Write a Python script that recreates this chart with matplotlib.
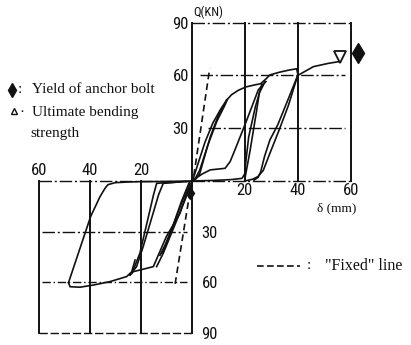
import matplotlib
matplotlib.use("Agg")
import matplotlib.pyplot as plt
from matplotlib import font_manager

# hysteresis loops, positive quadrant (delta mm, Q kN)
up_c1_load_d = [0.5, 2, 5, 8, 11, 13.2]
up_c1_load_q = [1, 8, 22, 33, 41, 46]
up_c1_unload_d = [13.2, 10, 7, 4.5, 3, 1.5, 0]
up_c1_unload_q = [46, 37, 25, 12, 4, 1, 0]
up_c1_reload_d = [1, 3, 6, 9.5, 12.5, 13.5]
up_c1_reload_q = [0.5, 6, 20, 34, 43, 46.5]
up_env_d = [13.2, 15, 17.5, 20.5, 24, 26, 28, 29.5, 33, 36.5, 39.6, 40]
up_env_q = [46, 49, 51.5, 53.5, 54.7, 55.3, 58, 60.3, 61.8, 63, 63.8, 61]
up_c2_load_d = [1, 4, 7, 12.6, 14.5, 16.3, 20.8, 25.1, 26.9, 28]
up_c2_load_q = [1, 4, 6.3, 7.2, 11, 17.6, 34.7, 51.7, 55, 56.5]
up_c2_reload_d = [20.1, 22, 24.5, 25.5, 27.7]
up_c2_reload_q = [1.5, 17, 40, 50, 56.5]
up_c2_unload_d = [26.5, 24, 21.5, 20.5, 20, 19, 15, 8, 0]
up_c2_unload_q = [55, 42, 25, 12, 4, 1.5, 0.8, 0.3, 0]
up_c3_load_d = [20, 23, 25, 27, 29.5, 33, 36.5, 40]
up_c3_load_q = [0, 1, 2.5, 6, 15.7, 29, 43, 60]
up_c3_unload_d = [40, 36, 32.5, 29.5, 27.5, 26, 25, 23.5]
up_c3_unload_q = [60, 45, 32, 23.3, 14, 5, 2, 0.5]
up_final_d = [40, 45.9, 51.6, 55.3]
up_final_q = [60, 65, 66.9, 67.8]

# hysteresis loops, negative quadrant
lo_c1_a_d = [0, -5, -11.2, -13.8]
lo_c1_a_q = [-1.4, -20, -42.8, -50.7]
lo_c1_b_d = [-2, -6, -9.8, -11.8]
lo_c1_b_q = [-5.3, -21, -36.9, -42.8]
lo_c1_c_d = [-1, -4, -7.5, -10.5, -12.5]
lo_c1_c_q = [-1, -12, -27, -38, -44]
lo_c2_load_d = [-2, -10, -13.8, -15, -20.4, -23, -23.6]
lo_c2_load_q = [-0.4, -1, -1.4, -8, -42.8, -52.7, -54.6]
lo_c2_reload_d = [-4.6, -11.2, -13, -19.1, -21.7, -24.3]
lo_c2_reload_q = [-0.5, -1.4, -8, -38.9, -50.7, -55.7]
lo_c2_unload_d = [-24.3, -23, -17.7, -15.1, -10, -4.6, -0.7]
lo_c2_unload_q = [-55.7, -53.7, -51.7, -50.7, -33, -19.1, -1.4]
lo_c3_unload_d = [-48.5, -39.8, -36.1, -34.2, -33, -30.2, -25, -20.3, -10, 0]
lo_c3_unload_q = [-60.2, -21.1, -9.3, -4.5, -2.2, -1.0, -0.6, -0.4, -0.3, 0]
lo_c3_peak_d = [-48.5, -47.9, -44, -38.7, -32.2, -25.6, -23.6, -22.3]
lo_c3_peak_q = [-60.2, -62.6, -62.9, -61.6, -59.6, -56.6, -53.7, -46.8]

# "Fixed" reference lines
fix_up_d = [0.8, 6.8]
fix_up_q = [3, 64]
fix_lo_d = [0, -6.6]
fix_lo_q = [0, -61.6]

# event markers
yield_d = [62.9, -0.6]
yield_q = [72.6, -7.0]
ult_d = [56]
ult_q = [70.7]

up_xticks = [20, 40, 60]
up_yticks = [30, 60, 90]
lo_xticks = [-60, -40, -20]
lo_yticks = [-30, -60, -90]


def pick_font(names):
    for name in names:
        try:
            font_manager.findfont(name, fallback_to_default=False)
            return name
        except ValueError:
            pass
    return "DejaVu Sans"


ink = "#111111"
dashdot = (0, (9, 2, 1.5, 2))
tick_font = pick_font(["Liberation Sans Narrow", "Roboto Condensed", "Liberation Sans"])
serif = ["Liberation Serif", "DejaVu Serif"]

fig = plt.figure(figsize=(4.11, 3.45), dpi=100)
ax_up = fig.add_axes([0.4664, 0.4754, 0.3869, 0.4588])
ax_lo = fig.add_axes([0.0956, 0.0348, 0.3708, 0.4406])

ax_up.set_xlim(0, 60)
ax_up.set_ylim(0, 90)
ax_lo.set_xlim(-60, 0)
ax_lo.set_ylim(-90, 0)

for ax in (ax_up, ax_lo):
    for s in ax.spines.values():
        s.set_visible(False)
    ax.patch.set_alpha(0)
    ax.tick_params(length=0, labelsize=12, colors=ink)

# frame and grid of the positive quadrant
for x in [0, 20, 40, 60]:
    ax_up.plot([x, x], [0, 90], color=ink, lw=1.4, clip_on=False)
ax_up.plot([0, 60], [90, 90], color=ink, lw=1, ls=dashdot, clip_on=False)
ax_up.plot([3, 58], [60, 60], color=ink, lw=1, ls=dashdot)
ax_up.plot([6, 58], [30, 30], color=ink, lw=1, ls=dashdot)
ax_up.plot([0, 60], [0, 0], color=ink, lw=1, ls=dashdot, clip_on=False)

# frame and grid of the negative quadrant
for x in [-60, -40, -20, 0]:
    ax_lo.plot([x, x], [-90, 0], color=ink, lw=1.4, clip_on=False)
ax_lo.plot([-60, 0], [0, 0], color=ink, lw=1, ls=dashdot, clip_on=False)
ax_lo.plot([-59, -2], [-30, -30], color=ink, lw=1, ls=dashdot)
ax_lo.plot([-59, -2], [-60, -60], color=ink, lw=1, ls=(0, (6, 2, 1, 2)))
ax_lo.plot([-60, 0], [-90, -90], color=ink, lw=1, ls=(0, (6, 2)), clip_on=False)

up_lines = [
    (up_c1_load_d, up_c1_load_q), (up_c1_unload_d, up_c1_unload_q),
    (up_c1_reload_d, up_c1_reload_q), (up_env_d, up_env_q),
    (up_c2_load_d, up_c2_load_q), (up_c2_reload_d, up_c2_reload_q),
    (up_c2_unload_d, up_c2_unload_q), (up_c3_load_d, up_c3_load_q),
    (up_c3_unload_d, up_c3_unload_q), (up_final_d, up_final_q),
]
for d, q in up_lines:
    ax_up.plot(d, q, color=ink, lw=1.2, clip_on=False)

lo_lines = [
    (lo_c1_a_d, lo_c1_a_q), (lo_c1_b_d, lo_c1_b_q), (lo_c1_c_d, lo_c1_c_q),
    (lo_c2_load_d, lo_c2_load_q), (lo_c2_reload_d, lo_c2_reload_q),
    (lo_c2_unload_d, lo_c2_unload_q), (lo_c3_unload_d, lo_c3_unload_q),
    (lo_c3_peak_d, lo_c3_peak_q),
]
for d, q in lo_lines:
    ax_lo.plot(d, q, color=ink, lw=1.2, clip_on=False)

ax_up.plot(fix_up_d, fix_up_q, color=ink, lw=1.2, ls=(0, (4, 2.5)))
ax_lo.plot(fix_lo_d, fix_lo_q, color=ink, lw=1.2, ls=(0, (4, 2.5)))

ax_up.plot(yield_d[:1], yield_q[:1], marker="d", ms=10, color=ink, ls="none", clip_on=False)
ax_lo.plot(yield_d[1:], yield_q[1:], marker="d", ms=6, color=ink, ls="none", clip_on=False)
ax_up.plot(ult_d, ult_q, marker="v", ms=8, mfc="white", mec=ink, mew=1.3, ls="none", clip_on=False)

# tick labels
ax_up.set_xticks(up_xticks)
ax_up.set_yticks(up_yticks)
ax_up.set_xticklabels([str(v) for v in up_xticks], family=tick_font)
ax_up.set_yticklabels([str(v) for v in up_yticks], family=tick_font)
ax_up.tick_params(axis="x", pad=1.5)
ax_up.tick_params(axis="y", pad=2)

ax_lo.set_xticks(lo_xticks)
ax_lo.set_yticks(lo_yticks)
ax_lo.xaxis.tick_top()
ax_lo.yaxis.tick_right()
ax_lo.set_xticklabels([str(-v) for v in lo_xticks], family=tick_font)
ax_lo.set_yticklabels([str(-v) for v in lo_yticks], family=tick_font)
ax_lo.tick_params(axis="x", pad=2)
ax_lo.tick_params(axis="y", pad=7)

ax_up.text(0.6, 92, "Q(KN)", fontsize=9, family=tick_font, ha="left", va="bottom", color=ink)
ax_up.text(54.7, -15.5, "δ (mm)", fontsize=9.5, family=serif, ha="center", va="center",
           color=ink, clip_on=False)

# key, placed above the negative quadrant
key_font = dict(fontsize=11, family=serif, ha="left", va="center", color=ink, clip_on=False)
ax_lo.plot([-70.9], [53.9], marker="d", ms=7, color=ink, ls="none", clip_on=False)
ax_lo.text(-68.6, 54.2, ":", **key_font)
ax_lo.text(-63.0, 54.2, "Yield of anchor bolt", **key_font)
ax_lo.plot([-69.8], [41.5], marker="^", ms=5, mfc="white", mec=ink, mew=1, ls="none", clip_on=False)
ax_lo.text(-68.0, 40.8, "·", **key_font)
ax_lo.text(-62.9, 40.3, "Ultimate bending", **key_font)
ax_lo.text(-63.7, 28.4, "strength", **key_font)

ax_up.plot([24.6, 40.9], [-48.3, -48.3], color=ink, lw=1.2, ls=(0, (4, 2)), clip_on=False)
ax_up.text(43.4, -48.3, ":", fontsize=11, family=serif, ha="left", va="center",
           color=ink, clip_on=False)
ax_up.text(50.3, -48.3, "\"Fixed\" line", fontsize=11.5, family=serif, ha="left",
           va="center", color=ink, clip_on=False)

fig.savefig("out.png", dpi=100)
